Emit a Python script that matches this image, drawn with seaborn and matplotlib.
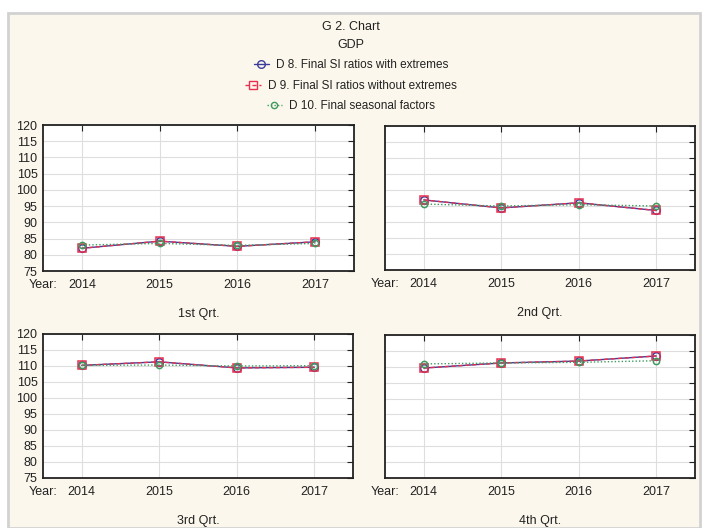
import pandas as pd
import matplotlib.pyplot as plt
import seaborn as sns
from matplotlib.lines import Line2D
from matplotlib.patches import Rectangle

# Data
years = [2014, 2015, 2016, 2017]
quarters = ['1st Qrt.', '2nd Qrt.', '3rd Qrt.', '4th Qrt.']

d8_with_extremes = {
    '1st Qrt.': [82.0, 84.2, 82.6, 84.0],
    '2nd Qrt.': [96.9, 94.4, 96.0, 93.6],
    '3rd Qrt.': [110.2, 111.3, 109.4, 109.6],
    '4th Qrt.': [109.6, 111.2, 111.8, 113.4],
}
d9_without_extremes = {
    '1st Qrt.': [82.0, 84.2, 82.6, 84.0],
    '2nd Qrt.': [96.9, 94.4, 96.0, 93.6],
    '3rd Qrt.': [110.2, 111.3, 109.4, 109.6],
    '4th Qrt.': [109.6, 111.2, 111.8, 113.4],
}
d10_seasonal = {
    '1st Qrt.': [83.0, 83.5, 82.9, 83.5],
    '2nd Qrt.': [95.6, 95.0, 95.4, 95.0],
    '3rd Qrt.': [110.2, 110.3, 110.0, 110.1],
    '4th Qrt.': [110.9, 111.2, 111.4, 111.9],
}
series_names = ['D 8. Final SI ratios with extremes',
                'D 9. Final SI ratios without extremes',
                'D 10. Final seasonal factors']
yticks = list(range(75, 121, 5))

rows = []
for q in quarters:
    for name, src in zip(series_names, [d8_with_extremes, d9_without_extremes, d10_seasonal]):
        for yr, v in zip(years, src[q]):
            rows.append({'quarter': q, 'year': yr, 'series': name, 'value': v})
df = pd.DataFrame(rows)

sns.set_style('white')
plt.rcParams['font.family'] = ['Liberation Sans', 'DejaVu Sans']
plt.rcParams['font.size'] = 9

styles = {
    series_names[0]: dict(color='#3c3c9c', marker='o', linestyle='-', ms=5.5),
    series_names[1]: dict(color='#e8304e', marker='s', linestyle=(0, (3, 2)), ms=5.5),
    series_names[2]: dict(color='#3f9a60', marker='o', linestyle=(0, (1, 1.5)), ms=4.5),
}

W, H = 702, 528
fig = plt.figure(figsize=(W / 100, H / 100), dpi=100)
fig.patch.set_facecolor('white')
fig.patches.append(Rectangle((8 / W, 0), 692 / W, 1 - 13 / H, transform=fig.transFigure,
                             facecolor='#fbf7ec', edgecolor='#d2d2d2', lw=2, zorder=-10))

# axes boxes in pixels: left, top, right, bottom
boxes = [(43, 125, 354, 271), (385, 126, 695, 270), (43, 334, 353, 478), (385, 335, 695, 478)]

for i, (q, (l, t, r, b)) in enumerate(zip(quarters, boxes)):
    ax = fig.add_axes([l / W, 1 - b / H, (r - l) / W, (b - t) / H])
    ax.set_facecolor('white')
    sub = df[df['quarter'] == q]
    for name in series_names:
        st = styles[name]
        s = sub[sub['series'] == name]
        sns.lineplot(data=s, x='year', y='value', ax=ax, color=st['color'],
                     marker=st['marker'], markersize=st['ms'], markerfacecolor='none',
                     markeredgecolor=st['color'], markeredgewidth=1.1, lw=1,
                     linestyle=st['linestyle'], legend=False)
    ax.set_xlim(2013.5, 2017.5)
    ax.set_ylim(75, 120)
    ax.set_xticks(years)
    ax.set_yticks(yticks)
    ax.grid(True, color='#dedede', lw=0.8)
    ax.tick_params(direction='in', length=4, width=0.8, top=True, right=True,
                   labelsize=9, pad=4, colors='#222222')
    ax.tick_params(axis='x', pad=6)
    if i % 2 == 1:
        ax.set_yticklabels([])
    for sp in ax.spines.values():
        sp.set_color('#222222')
        sp.set_linewidth(1.3)
    ax.set_xlabel(q, fontsize=9, labelpad=12, color='#222222')
    ax.set_ylabel('')
    ax.annotate('Year:', xy=(0, 0), xycoords='axes fraction', xytext=(0, -6),
                textcoords='offset points', ha='center', va='top', fontsize=9, color='#222222')

fig.text(0.5, 1 - 27 / H, 'G 2. Chart', ha='center', va='center', fontsize=9, color='#222222')
fig.text(0.5, 1 - 45 / H, 'GDP', ha='center', va='center', fontsize=9, color='#222222')

for name, ypix in zip(series_names, [65, 86, 106]):
    st = styles[name]
    h = Line2D([], [], color=st['color'], marker=st['marker'], markersize=st['ms'],
               markerfacecolor='none', lw=1, linestyle=st['linestyle'])
    fig.legend(handles=[h], labels=[name], loc='center', bbox_to_anchor=(0.5, 1 - ypix / H),
               frameon=False, fontsize=8.5, handlelength=1.3, handletextpad=0.6,
               labelcolor='#222222')

fig.savefig('out.png', dpi=100, facecolor=fig.get_facecolor())
